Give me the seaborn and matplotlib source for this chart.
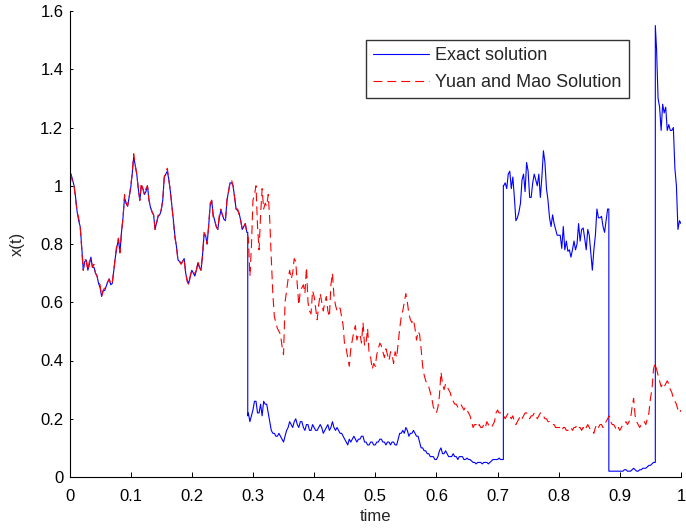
import numpy as np
import pandas as pd
import matplotlib
matplotlib.use("Agg")
import matplotlib.pyplot as plt
import seaborn as sns
from matplotlib.ticker import FuncFormatter

# ---------------- data ----------------
step = 0.0025  # sampling interval of the tabulated values below (t = 0 .. 1)

exact_solution = [
    1.03, 1.04, 1.02, 1.00, 0.96, 0.91, 0.88, 0.86, 0.79, 0.71, 0.74, 0.745, 0.71, 0.73, 0.755, 0.72, 0.72, 0.70, 0.69, 0.665,
    0.65, 0.62, 0.64, 0.64, 0.655, 0.67, 0.68, 0.66, 0.665, 0.71, 0.755, 0.79, 0.815, 0.77, 0.84, 0.89, 0.96, 0.94, 0.93, 0.96,
    0.99, 1.04, 1.10, 1.07, 1.04, 0.99, 0.95, 1.00, 0.99, 0.97, 0.98, 1.00, 0.95, 0.925, 0.91, 0.90, 0.85, 0.875, 0.895, 0.90,
    0.915, 0.95, 1.03, 1.04, 1.05, 1.02, 0.98, 0.93, 0.88, 0.825, 0.79, 0.745, 0.74, 0.735, 0.74, 0.75, 0.70, 0.675, 0.665, 0.69,
    0.71, 0.70, 0.69, 0.71, 0.735, 0.72, 0.71, 0.76, 0.83, 0.83, 0.80, 0.86, 0.93, 0.95, 0.90, 0.88, 0.86, 0.85, 0.89, 0.915,
    0.90, 0.885, 0.88, 0.95, 0.98, 1.01, 1.01, 1.00, 0.96, 0.92, 0.915, 0.905, 0.88, 0.85, 0.86, 0.87, 0.84, 0.22, 0.19, 0.21,
    0.23, 0.26, 0.26, 0.22, 0.22, 0.25, 0.21, 0.26, 0.25, 0.25, 0.22, 0.19, 0.16, 0.15, 0.15, 0.14, 0.14, 0.15, 0.14, 0.13,
    0.12, 0.14, 0.16, 0.17, 0.19, 0.18, 0.17, 0.19, 0.20, 0.18, 0.17, 0.19, 0.19, 0.17, 0.16, 0.18, 0.18, 0.16, 0.16, 0.18,
    0.17, 0.16, 0.16, 0.17, 0.18, 0.17, 0.15, 0.16, 0.17, 0.18, 0.16, 0.17, 0.19, 0.17, 0.16, 0.17, 0.16, 0.15, 0.15, 0.14,
    0.13, 0.12, 0.11, 0.13, 0.12, 0.13, 0.14, 0.13, 0.12, 0.13, 0.13, 0.14, 0.14, 0.12, 0.12, 0.11, 0.11, 0.12, 0.12, 0.11,
    0.11, 0.12, 0.12, 0.13, 0.13, 0.12, 0.12, 0.11, 0.12, 0.12, 0.11, 0.12, 0.12, 0.11, 0.11, 0.13, 0.15, 0.15, 0.16, 0.15,
    0.17, 0.16, 0.14, 0.15, 0.15, 0.16, 0.15, 0.14, 0.14, 0.12, 0.10, 0.10, 0.09, 0.09, 0.08, 0.08, 0.07, 0.07, 0.07, 0.06,
    0.06, 0.07, 0.09, 0.10, 0.08, 0.08, 0.09, 0.08, 0.07, 0.07, 0.07, 0.08, 0.07, 0.07, 0.06, 0.07, 0.07, 0.07, 0.06, 0.06,
    0.065, 0.06, 0.06, 0.055, 0.05, 0.05, 0.045, 0.05, 0.05, 0.05, 0.045, 0.05, 0.05, 0.05, 0.045, 0.05, 0.055, 0.06, 0.06, 0.06,
    0.06, 0.065, 0.06, 0.06, 1.00, 1.01, 0.99, 1.04, 1.05, 0.99, 1.03, 0.96, 0.88, 0.89, 0.91, 0.94, 1.02, 1.04, 0.98, 1.08,
    1.05, 0.96, 0.96, 1.01, 1.04, 1.02, 1.00, 1.04, 0.96, 1.03, 1.12, 1.08, 0.99, 0.95, 0.89, 0.86, 0.90, 0.87, 0.85, 0.83,
    0.83, 0.83, 0.785, 0.86, 0.78, 0.81, 0.775, 0.78, 0.755, 0.78, 0.81, 0.78, 0.80, 0.87, 0.81, 0.85, 0.855, 0.82, 0.78, 0.85,
    0.83, 0.77, 0.71, 0.78, 0.83, 0.92, 0.89, 0.89, 0.895, 0.86, 0.84, 0.88, 0.92, 0.02, 0.02, 0.02, 0.02, 0.02, 0.02, 0.02,
    0.02, 0.02, 0.02, 0.025, 0.025, 0.02, 0.02, 0.02, 0.025, 0.03, 0.025, 0.02, 0.02, 0.025, 0.025, 0.03, 0.03, 0.03, 0.035, 0.04,
    0.04, 0.045, 0.05, 0.05, 1.47, 1.30, 1.27, 1.19, 1.28, 1.25, 1.27, 1.19, 1.21, 1.19, 1.19, 1.20, 1.06, 1.00, 0.85, 0.88,
    0.87,
]

# switching instants of the exact solution: time, value before, value after
jump_time = [0.2915, 0.7095, 0.882, 0.958]
jump_before = [0.84, 0.06, 0.92, 0.05]
jump_after = [0.21, 1.00, 0.02, 1.55]

yuan_mao_solution = [
    1.04, 1.04, 1.01, 1.00, 0.95, 0.91, 0.89, 0.86, 0.78, 0.71, 0.75, 0.74, 0.71, 0.74, 0.75, 0.72, 0.73, 0.70, 0.69, 0.67,
    0.66, 0.62, 0.64, 0.65, 0.66, 0.67, 0.68, 0.66, 0.67, 0.71, 0.76, 0.80, 0.82, 0.77, 0.84, 0.89, 0.97, 0.94, 0.93, 0.96,
    1.00, 1.04, 1.11, 1.07, 1.04, 0.99, 0.95, 1.01, 0.99, 0.97, 0.99, 1.00, 0.95, 0.93, 0.91, 0.90, 0.85, 0.87, 0.90, 0.90,
    0.92, 0.95, 1.03, 1.05, 1.06, 1.02, 0.98, 0.93, 0.87, 0.82, 0.79, 0.74, 0.74, 0.73, 0.74, 0.75, 0.70, 0.67, 0.66, 0.69,
    0.71, 0.70, 0.70, 0.71, 0.74, 0.72, 0.71, 0.76, 0.84, 0.83, 0.80, 0.86, 0.94, 0.95, 0.89, 0.88, 0.86, 0.85, 0.90, 0.92,
    0.90, 0.89, 0.88, 0.95, 0.98, 1.01, 1.02, 1.00, 0.96, 0.92, 0.92, 0.90, 0.88, 0.85, 0.86, 0.87, 0.84, 0.82, 0.69, 0.79,
    0.95, 0.97, 1.00, 0.86, 0.78, 0.90, 0.99, 0.92, 0.94, 0.93, 0.97, 0.88, 0.75, 0.63, 0.55, 0.53, 0.51, 0.50, 0.49, 0.45,
    0.42, 0.60, 0.64, 0.68, 0.71, 0.68, 0.70, 0.75, 0.74, 0.66, 0.59, 0.64, 0.65, 0.66, 0.63, 0.72, 0.60, 0.57, 0.56, 0.64,
    0.62, 0.58, 0.54, 0.59, 0.63, 0.60, 0.57, 0.60, 0.62, 0.57, 0.55, 0.66, 0.70, 0.62, 0.59, 0.57, 0.58, 0.58, 0.55, 0.52,
    0.45, 0.44, 0.41, 0.38, 0.44, 0.47, 0.50, 0.52, 0.47, 0.49, 0.49, 0.46, 0.53, 0.45, 0.46, 0.51, 0.42, 0.41, 0.37, 0.39,
    0.38, 0.42, 0.44, 0.46, 0.45, 0.43, 0.41, 0.44, 0.42, 0.40, 0.43, 0.42, 0.39, 0.43, 0.41, 0.46, 0.51, 0.55, 0.57, 0.60,
    0.63, 0.60, 0.56, 0.54, 0.53, 0.54, 0.51, 0.47, 0.50, 0.49, 0.44, 0.38, 0.35, 0.33, 0.32, 0.31, 0.29, 0.27, 0.24, 0.23,
    0.22, 0.24, 0.28, 0.36, 0.32, 0.30, 0.32, 0.31, 0.30, 0.29, 0.27, 0.26, 0.25, 0.25, 0.24, 0.25, 0.25, 0.24, 0.23, 0.24,
    0.23, 0.22, 0.21, 0.19, 0.17, 0.18, 0.18, 0.17, 0.18, 0.17, 0.17, 0.18, 0.17, 0.19, 0.18, 0.17, 0.17, 0.18, 0.19, 0.22,
    0.23, 0.22, 0.22, 0.21, 0.21, 0.20, 0.21, 0.22, 0.21, 0.20, 0.21, 0.19, 0.18, 0.19, 0.20, 0.21, 0.20, 0.21, 0.22, 0.22,
    0.21, 0.20, 0.21, 0.21, 0.22, 0.21, 0.20, 0.21, 0.22, 0.22, 0.21, 0.20, 0.20, 0.19, 0.19, 0.18, 0.18, 0.18, 0.17, 0.17,
    0.17, 0.17, 0.16, 0.17, 0.17, 0.16, 0.16, 0.17, 0.17, 0.16, 0.17, 0.17, 0.18, 0.17, 0.17, 0.16, 0.17, 0.16, 0.17, 0.18,
    0.17, 0.16, 0.16, 0.15, 0.17, 0.18, 0.17, 0.18, 0.18, 0.17, 0.18, 0.19, 0.20, 0.21, 0.19, 0.18, 0.18, 0.17, 0.16, 0.17,
    0.16, 0.17, 0.18, 0.18, 0.19, 0.18, 0.19, 0.20, 0.24, 0.27, 0.21, 0.19, 0.18, 0.17, 0.18, 0.19, 0.19, 0.18, 0.20, 0.22,
    0.27, 0.30, 0.37, 0.39, 0.37, 0.35, 0.33, 0.31, 0.32, 0.31, 0.32, 0.33, 0.32, 0.30, 0.29, 0.27, 0.26, 0.25, 0.23, 0.22,
    0.23,
]

x_ticks = [0, 0.1, 0.2, 0.3, 0.4, 0.5, 0.6, 0.7, 0.8, 0.9, 1]
y_ticks = [0, 0.2, 0.4, 0.6, 0.8, 1.0, 1.2, 1.4, 1.6]
series_names = ["Exact solution", "Yuan and Mao Solution"]

# ---------------- build tables ----------------
t_grid = np.arange(len(exact_solution)) * step
t_exact = np.concatenate([t_grid, jump_time, jump_time])
x_exact = np.concatenate([exact_solution, jump_before, jump_after])
order_key = np.concatenate([np.ones(len(t_grid)), np.zeros(len(jump_time)),
                            np.full(len(jump_time), 0.5)])
# sort by time; at a jump the "before" value first, then "after"
idx = np.lexsort((order_key, t_exact))
df_exact = pd.DataFrame({"time": t_exact[idx], "x": x_exact[idx]})
df_ym = pd.DataFrame({"time": np.arange(len(yuan_mao_solution)) * step,
                      "x": yuan_mao_solution})

# ---------------- style ----------------
sns.set_style("white")
plt.rcParams["font.family"] = ["Liberation Sans", "DejaVu Sans"]
plt.rcParams["font.size"] = 12

fig = plt.figure(figsize=(6.86, 5.31), dpi=100)
ax = fig.add_axes([69.5 / 686, 1 - 477 / 531, (681 - 69.5) / 686, (477 - 11) / 531])

sns.lineplot(data=df_exact, x="time", y="x", ax=ax, sort=False, estimator=None,
             color=(0, 0, 1), linewidth=0.8, label=series_names[0])
sns.lineplot(data=df_ym, x="time", y="x", ax=ax, sort=False, estimator=None,
             color=(1, 0, 0), linewidth=0.8, label=series_names[1],
             linestyle=(0, (8, 4.5)))

ax.set_xlim(0, 1)
ax.set_ylim(0, 1.6)
ax.set_xticks(x_ticks)
ax.set_yticks(y_ticks)
fmt = FuncFormatter(lambda v, p: f"{v:g}")
ax.xaxis.set_major_formatter(fmt)
ax.yaxis.set_major_formatter(fmt)
ax.tick_params(axis="x", direction="in", length=3.5, width=0.7, colors="black",
               labelsize=12, pad=8.7)
ax.tick_params(axis="y", direction="in", length=2, width=0.7, colors="black",
               labelsize=12, pad=4.5)
ax.tick_params(top=False, right=False, bottom=True, left=True)
for s in ["top", "right"]:
    ax.spines[s].set_visible(False)
for s in ["left", "bottom"]:
    ax.spines[s].set_color("black")
    ax.spines[s].set_linewidth(0.8)

ax.set_xlabel("time", fontsize=12, labelpad=3.7)
ax.set_ylabel("x(t)", fontsize=12, labelpad=11)

leg = ax.legend(loc="upper right",
                bbox_to_anchor=((629 - 69.5) / (681 - 69.5), (477 - 40) / (477 - 11)),
                borderaxespad=0, frameon=True, fancybox=False, fontsize=13,
                handlelength=3.1, handletextpad=0.33, labelspacing=0.55,
                borderpad=0.4)
leg.get_frame().set_edgecolor("black")
leg.get_frame().set_linewidth(1.0)

fig.savefig("out.png", dpi=100, facecolor="white")
